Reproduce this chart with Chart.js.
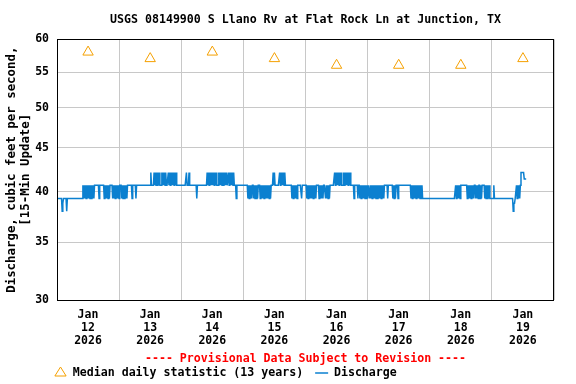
<!DOCTYPE html>
<html><head><meta charset="utf-8">
<script src="https://cdn.jsdelivr.net/npm/chart.js@4.4.1/dist/chart.umd.min.js"></script>
<style>html,body{margin:0;padding:0;background:#fff}canvas{display:block}</style>
</head><body>
<canvas id="c" width="576" height="384"></canvas>
<script>
'use strict';
const TITLE='USGS 08149900 S Llano Rv at Flat Rock Ln at Junction, TX';
const NOTE='---- Provisional Data Subject to Revision ----';
const dayLabels=[['Jan','12','2026'],['Jan','13','2026'],['Jan','14','2026'],['Jan','15','2026'],['Jan','16','2026'],['Jan','17','2026'],['Jan','18','2026'],['Jan','19','2026']];
const xGridHours=[0,24,48,72,96,120,144,168,192];   // hours since Jan 12 00:00
const yTicks=[30,35,40,45,50,55,60];
// median daily statistic, plotted at noon
const medianHours=[12,36,60,84,108,132,156,180];
const medianVals=[58,57,58,57,56,56,56,57];
// discharge levels seen in the record (cfs)
const levels={b:39.3,m:40.7,t:42.1,L:38.0,l:38.8,u:41.4};
// 15-min record from Jan 12 00:00 : token = level pattern + repeat count
const runs='b8 L1 l1 b5 L1 b24 mb9 m7 b1 m6 mb5 m3 mb6 m2 mb5 m7 b1 m5 b1 m22 t1 m4 tm5 m2 tm4 m2 tm7 m14 t1 m3 t1 m11 b1 m15 '+
  'tm8 m2 tm7 m1 tm5 m2 b1 m17 bm4 m1 bm4 m2 bm9 m2 t1 m1 t1 m7 tm5 m9 bm5 m5 b1 m7 bm8 m3 bm4 m2 bm4 m6 tm6 m2 tm6 m4 '+
  'b1 m5 b1 m2 bm7 m1 bm12 m4 b1 m7 bm3 m2 b1 m19 bm9 b50 bm5 m9 bm2 b1 m1 bm3 m1 bm3 m1 bm2 m3 bm4 b6 m1 b29 L1 l2 b1 bm4 t5 u4';

const flowVals=[];
runs.split(' ').forEach(tok=>{ const m=tok.match(/^([a-zA-Z]+)(\d+)$/); for(let k=0;k<+m[2];k++) for(const ch of m[1]) flowVals.push(levels[ch]); });
const flow=flowVals.map((v,i)=>({x:i/4,y:v}));

const mono='"DejaVu Sans Mono", monospace';
const f=(size)=>({family:mono,size,weight:'bold'});

// black frame round the plot
const frame={id:'frame',afterDraw(c){ const a=c.chartArea,x=c.ctx; x.save(); x.strokeStyle='#000'; x.lineWidth=1;
  x.strokeRect(Math.round(a.left)+0.5,Math.round(a.top)+0.5,Math.round(a.right-a.left)-1,Math.round(a.bottom-a.top)); x.restore(); }};
// legend sits left, under the note
const nudge={id:'nudge',afterLayout(c){ c.legend.left=42; c.legend.top=355.2; }};

new Chart(document.getElementById('c'),{
  type:'line',
  data:{datasets:[
    {label:'Median daily statistic (13 years)',data:medianHours.map((h,i)=>({x:h,y:medianVals[i]})),showLine:false,
     pointStyle:'triangle',pointRadius:6,pointBorderWidth:1,pointBorderColor:'#f5a000',pointBackgroundColor:'rgba(0,0,0,0)',
     borderColor:'#f5a000',backgroundColor:'rgba(0,0,0,0)'},
    {label:'Discharge',data:flow,borderColor:'#0b80d0',borderWidth:1.5,pointRadius:0,pointStyle:'line',
     pointBorderColor:'#0b80d0',pointBorderWidth:1.5,tension:0,fill:false}
  ]},
  options:{responsive:false,devicePixelRatio:1,animation:false,events:[],
    layout:{padding:{left:0,right:22,top:0,bottom:0}},
    plugins:{
      title:{display:true,text:TITLE,color:'#000',font:f(11.6),fullSize:false,padding:{top:13,bottom:12.4}},
      subtitle:{display:true,text:NOTE,color:'#ff0000',font:f(11.6),position:'bottom',fullSize:false,weight:500,padding:{top:5,bottom:0}},
      legend:{position:'bottom',align:'start',maxHeight:18,
        labels:{usePointStyle:true,pointStyleWidth:13,boxHeight:8.5,padding:12,color:'#000',font:f(11.6)}},
      tooltip:{enabled:false}
    },
    scales:{
      x:{type:'linear',min:0,max:192,
        afterBuildTicks:s=>{ s.ticks=xGridHours.map(v=>({value:v})); },
        afterFit:s=>{ s.height=47; },
        ticks:{autoSkip:false,maxRotation:0,labelOffset:31,padding:8,color:'#000',font:{...f(11.5),lineHeight:1.15},
          callback:(v,i)=>dayLabels[i]||''},
        grid:{color:'#c8c8c8',drawTicks:false},border:{display:false}},
      y:{type:'logarithmic',min:30,max:60,
        afterBuildTicks:s=>{ s.ticks=yTicks.map(v=>({value:v})); },
        afterFit:s=>{ s.width=57; },
        ticks:{autoSkip:false,padding:8,color:'#000',font:f(11.5),callback:v=>String(v)},
        grid:{color:'#c8c8c8',drawTicks:false},border:{display:false},
        title:{display:true,text:['Discharge, cubic feet per second,','[15-Min Update]'],color:'#000',
          font:{...f(12.4),lineHeight:1.12},padding:{top:5,bottom:0}}}
    }
  },
  plugins:[frame,nudge]
});
</script>
</body></html>
